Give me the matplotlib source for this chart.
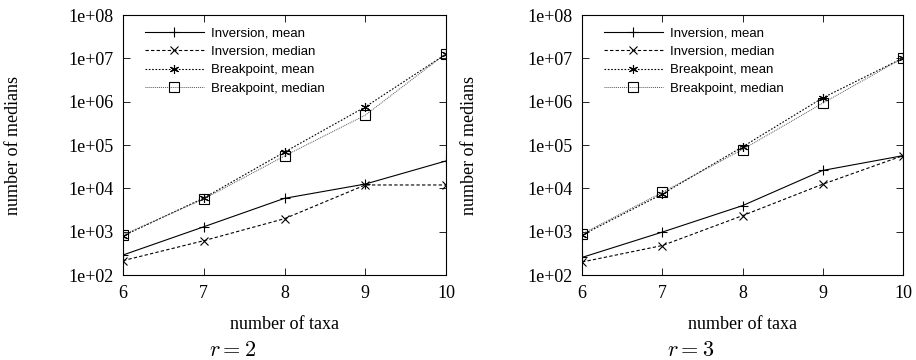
import numpy as np
import matplotlib
matplotlib.use("Agg")
import matplotlib.pyplot as plt
from matplotlib.ticker import FixedLocator, NullLocator

taxa = [6, 7, 8, 9, 10]

# r = 2
inv_mean_r2 = [290, 1300, 5900, 12600, 43000]
inv_median_r2 = [215, 620, 2000, 12000, 12000]
bp_mean_r2 = [800, 6000, 69000, 760000, 12.6e6]
bp_median_r2 = [850, 5700, 56000, 490000, 13e6]

# r = 3
inv_mean_r3 = [255, 980, 4000, 26000, 57000]
inv_median_r3 = [200, 480, 2350, 12500, 57000]
bp_mean_r3 = [840, 7400, 91000, 1.23e6, 10.2e6]
bp_median_r3 = [890, 8100, 79000, 930000, 10.2e6]

ytick_vals = [1e2, 1e3, 1e4, 1e5, 1e6, 1e7, 1e8]
ytick_labels = ["1e+02", "1e+03", "1e+04", "1e+05", "1e+06", "1e+07", "1e+08"]
labels = ["Inversion, mean", "Inversion, median", "Breakpoint, mean", "Breakpoint, median"]
panel_titles = [r"$r = 2$", r"$r = 3$"]

serif = "Liberation Serif"
sans = "Liberation Sans"
plt.rcParams['mathtext.fontset'] = 'cm'


def draw_panel(ax, series, ylabel_x):
    styles = [
        dict(color='black', ls='-', lw=0.8, marker='+', ms=7, mew=0.8),
        dict(color='black', ls=(0, (3, 2)), lw=0.8, marker='x', ms=5.5, mew=0.8),
        dict(color='black', ls=(0, (1.5, 1.5)), lw=0.8, marker=(6, 2, 0), ms=6.5, mew=0.8),
        dict(color='#555555', ls=(0, (1, 1)), lw=0.7, marker='s', ms=6.5, mew=0.8,
             mfc='none', mec='black'),
    ]
    for ys, st, lab in zip(series, styles, labels):
        ax.plot(taxa, ys, label=lab, **st)
    ax.set_yscale('log')
    ax.set_xlim(6, 10)
    ax.set_ylim(1e2, 1e8)
    ax.yaxis.set_major_locator(FixedLocator(ytick_vals))
    ax.yaxis.set_minor_locator(NullLocator())
    ax.set_yticklabels(ytick_labels, fontfamily=serif, fontsize=13)
    ax.set_xticks(taxa)
    ax.set_xticklabels([str(t) for t in taxa], fontfamily=serif, fontsize=13)
    ax.tick_params(direction='in', top=True, right=True, length=5, width=0.6, pad=7)
    for s in ax.spines.values():
        s.set_linewidth(0.8)
    ax.set_xlabel('number of taxa', fontfamily=serif, fontsize=13, labelpad=10)
    ax.set_ylabel('number of medians', fontfamily=serif, fontsize=13)
    ax.yaxis.set_label_coords(ylabel_x, 0.5)
    ax.legend(loc='upper left', bbox_to_anchor=(0.031, 1.0), frameon=False,
              prop=dict(family=sans, size=9.5), handlelength=4.45, labelspacing=0.48,
              handletextpad=0.55, borderaxespad=0.5)


fig = plt.figure(figsize=(9.16, 3.6), dpi=100)
ax1 = fig.add_axes([0.1343, 0.236, 0.3526, 0.722])
ax2 = fig.add_axes([0.6354, 0.236, 0.3504, 0.722])

draw_panel(ax1, [inv_mean_r2, inv_median_r2, bp_mean_r2, bp_median_r2], -0.312)
draw_panel(ax2, [inv_mean_r3, inv_median_r3, bp_mean_r3, bp_median_r3], -0.323)

fig.text(233 / 916, 0.027, panel_titles[0], ha='center', va='center', fontsize=16)
fig.text(691 / 916, 0.027, panel_titles[1], ha='center', va='center', fontsize=16)

fig.savefig('out.png', dpi=100)
